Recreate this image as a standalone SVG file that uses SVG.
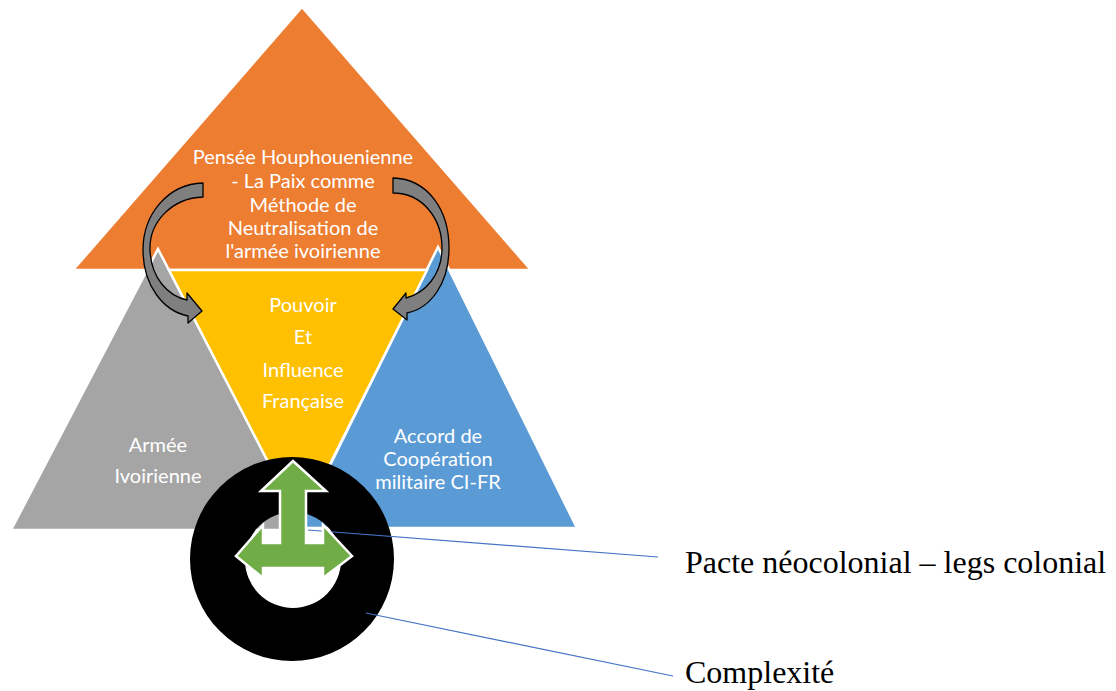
<svg xmlns="http://www.w3.org/2000/svg" width="1116" height="691" viewBox="0 0 1116 691">
<style>
.tri{stroke:#ffffff;stroke-width:2.5;stroke-linejoin:miter}
.lbl{font-family:Lato,"Open Sans","Liberation Sans",sans-serif;font-size:20px;fill:#ffffff;text-anchor:middle}
.side{font-family:"Liberation Serif","Times New Roman",serif;font-size:32px;fill:#000000}
.curv{fill:#7f7f7f;stroke:#000000;stroke-width:1.3;stroke-linejoin:round}
.lead{stroke:#4472c4;stroke-width:1.2;fill:none}
</style>
<rect width="1116" height="691" fill="#ffffff"/>
<g id="node-pensee">
<polygon class="tri" points="302,7 531,270 73,270" fill="#ed7d31"/>
</g>
<g id="node-armee">
<polygon class="tri" points="158,249 304,530 11,530" fill="#a5a5a5"/>
<text class="lbl" x="158" y="452">Armée</text>
<text class="lbl" x="158" y="483">Ivoirienne</text>
</g>
<g id="node-accord">
<polygon class="tri" points="438,247 577,528 299,528" fill="#5b9bd5"/>
<text class="lbl" x="438" y="443">Accord de</text>
<text class="lbl" x="438" y="466">Coopération</text>
<text class="lbl" x="438" y="489">militaire CI-FR</text>
</g>
<g id="node-pouvoir">
<polygon class="tri" points="169,270 427,270 300,524" fill="#ffc000"/>
<text class="lbl" x="303" y="312">Pouvoir</text>
<text class="lbl" x="303" y="344">Et</text>
<text class="lbl" x="303" y="377">Influence</text>
<text class="lbl" x="303" y="408">Française</text>
</g>
<g id="node-pensee-text">
<text class="lbl" x="303" y="164">Pensée Houphouenienne</text>
<text class="lbl" x="303" y="188">- La Paix comme</text>
<text class="lbl" x="303" y="212">Méthode de</text>
<text class="lbl" x="303" y="235">Neutralisation de</text>
<text class="lbl" x="303" y="258">l'armée ivoirienne</text>
</g>
<g id="node-curved-arrows">
<path class="curv" d="M203,183 C168,184 143,214 143,250 C143,285 163,311 188,316 L188,323 L202,311 L187,293 L187,300 C168,296 151,278 150,250 C149,222 172,198 203,197 Z"/>
<path class="curv" d="M393,178 C428,179 449,210 449,248 C449,283 431,308 407,313 L407,320 L393,309 L406,293 L406,298 C425,293 442,275 442,248 C442,218 422,193 393,193 Z"/>
</g>
<g id="node-complexite">
<path d="M190,559 A102,102 0 1 0 394,559 A102,102 0 1 0 190,559 Z M245,560 A48,48 0 1 1 341,560 A48,48 0 1 1 245,560 Z" fill="#000000" fill-rule="evenodd"/>
</g>
<g id="connectors">
<line class="lead" x1="308" y1="530" x2="658" y2="557"/>
<line class="lead" x1="366" y1="613" x2="673" y2="676"/>
</g>
<g id="node-green-arrow">
<path d="M293,461 L326,491 L306,491 L306,543 L323,543 L323,525 L352,556 L323,578 L323,568 L263,568 L263,578 L236,556 L263,525 L263,543 L280,543 L280,491 L261,491 Z" fill="#70ad47" stroke="#ffffff" stroke-width="2.5" stroke-linejoin="miter"/>
</g>
<g id="labels">
<text class="side" x="685" y="573">Pacte néocolonial – legs colonial</text>
<text class="side" x="685" y="683">Complexité</text>
</g>
</svg>
